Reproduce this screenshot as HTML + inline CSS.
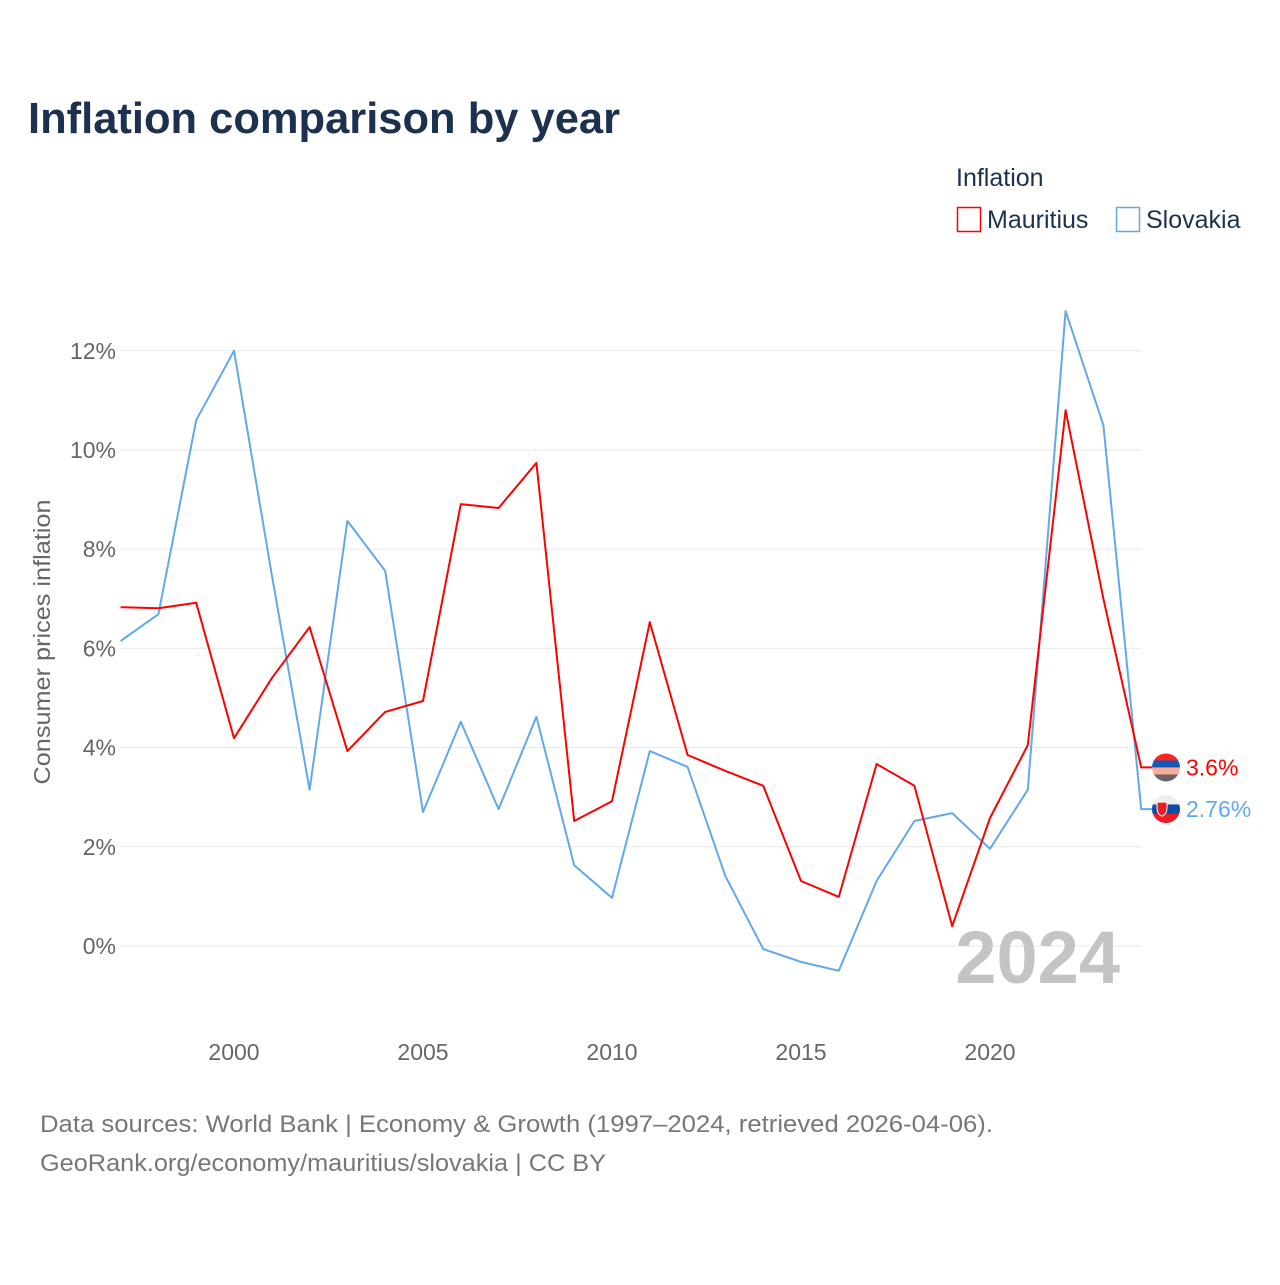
<!DOCTYPE html>
<html><head><meta charset="utf-8"><style>
body{margin:0;background:#fff;font-family:"Liberation Sans",sans-serif}
svg text{font-family:"Liberation Sans",sans-serif}
</style></head><body>
<svg width="1280" height="1280" xmlns="http://www.w3.org/2000/svg">
<rect width="1280" height="1280" fill="#fff"/>
<text x="28" y="133" font-size="44" font-weight="bold" fill="#1c3150" textLength="592" lengthAdjust="spacingAndGlyphs">Inflation comparison by year</text>
<text x="956" y="186" font-size="25" fill="#1c3150">Inflation</text>
<g><rect x="957.5" y="207.5" width="23" height="24" fill="none" stroke="#f00" stroke-width="1.5"/><text x="987" y="228" font-size="25" fill="#1c3150">Mauritius</text></g>
<g><rect x="1116.5" y="207.5" width="23" height="24" fill="none" stroke="#62a8ea" stroke-width="1.5"/><text x="1146" y="228" font-size="25" fill="#1c3150">Slovakia</text></g>
<g id="grid"></g>
<g id="series"></g>
<text transform="translate(50,642) rotate(-90)" text-anchor="middle" font-size="23" fill="#666" textLength="285" lengthAdjust="spacingAndGlyphs">Consumer prices inflation</text>
<text x="1120" y="983" text-anchor="end" font-size="74" font-weight="bold" fill="#c4c4c4">2024</text>
<text x="40" y="1132" font-size="24" fill="#777" textLength="953" lengthAdjust="spacingAndGlyphs">Data sources: World Bank | Economy &amp; Growth (1997–2024, retrieved 2026-04-06).</text>
<text x="40" y="1171" font-size="24" fill="#777" textLength="566" lengthAdjust="spacingAndGlyphs">GeoRank.org/economy/mauritius/slovakia | CC BY</text>
</svg>
<script>
const years=[1997,1998,1999,2000,2001,2002,2003,2004,2005,2006,2007,2008,2009,2010,2011,2012,2013,2014,2015,2016,2017,2018,2019,2020,2021,2022,2023,2024];
const mauritius=[6.83,6.81,6.92,4.19,5.40,6.43,3.93,4.72,4.94,8.91,8.83,9.74,2.52,2.92,6.53,3.85,3.53,3.23,1.31,0.99,3.67,3.23,0.40,2.58,4.05,10.8,7.0,3.6];
const slovakia=[6.15,6.69,10.6,12.0,7.48,3.15,8.57,7.56,2.70,4.52,2.76,4.62,1.63,0.97,3.93,3.61,1.41,-0.06,-0.32,-0.50,1.31,2.52,2.68,1.96,3.15,12.8,10.5,2.76];
const yTicks=[0,2,4,6,8,10,12];
const xTicks=[2000,2005,2010,2015,2020];
const NS="http://www.w3.org/2000/svg";
const X=v=>120.6+(v-1997)*37.8;
const Y=v=>946-v*49.6;
const grid=document.getElementById('grid'),ser=document.getElementById('series');
function mk(tag,attrs,parent){const e=document.createElementNS(NS,tag);for(const k in attrs)e.setAttribute(k,attrs[k]);parent.appendChild(e);return e;}
yTicks.forEach(t=>{
 const l=mk('line',{x1:120,x2:1141,y1:Y(t),y2:Y(t),stroke:'#e8e8e8','stroke-width':1},grid);
 
 
 const tx=mk('text',{x:116,y:Y(t)+8,'text-anchor':'end','font-size':23,fill:'#666'},grid);
 tx.textContent=t+'%';
 
 
});
xTicks.forEach(t=>{
 const tx=mk('text',{x:X(t),y:1060,'text-anchor':'middle','font-size':23,fill:'#666'},grid);
 tx.textContent=t;
 
 
});
function line(vals,color,name){
 let d=vals.map((v,i)=>(i?'L':'M')+X(years[i]).toFixed(1)+','+Y(v).toFixed(1)).join(' ');
 d+=' L'+(X(years[years.length-1])+11).toFixed(1)+','+Y(vals[vals.length-1]).toFixed(1);
 const p=mk('path',{d:d,fill:'none',stroke:color,'stroke-width':2,'stroke-linejoin':'round'},ser);
 
 
}
line(slovakia,'#62a8ea','slovakia');
line(mauritius,'#f00','mauritius');
function flag(cy,stripes,name){
 const g=mk('g',{},ser);
 
 
 const id='c'+name;
 const cp=mk('clipPath',{id:id},g);mk('circle',{cx:1166,cy:cy,r:14},cp);
 const h=28/stripes.length;
 stripes.forEach((c,i)=>mk('rect',{x:1152,y:cy-14+i*h,width:28,height:h+0.5,fill:c,'clip-path':'url(#'+id+')'},g));
 return g;
}
const ym=Y(mauritius[mauritius.length-1]),ys=Y(slovakia[slovakia.length-1]);
flag(ym,['#f22','#1659b4','#ffaa99','#666'],'mauritius');
const gs=flag(ys,['#eee','#0b4ea2','#ee1c25'],'slovakia');
mk('path',{d:`M1157,${ys-7} h10 v6 q0,6 -5,8 q-5,-2 -5,-8z`,fill:'#ee1c25',stroke:'#fff','stroke-width':1},gs);
const lm=mk('text',{x:1186,y:ym+8,'font-size':23,fill:'#f00'},ser);
lm.textContent=mauritius[mauritius.length-1]+'%';


const ls=mk('text',{x:1186,y:ys+8,'font-size':23,fill:'#62a8ea'},ser);
ls.textContent=slovakia[slovakia.length-1]+'%';


</script>
</body></html>
